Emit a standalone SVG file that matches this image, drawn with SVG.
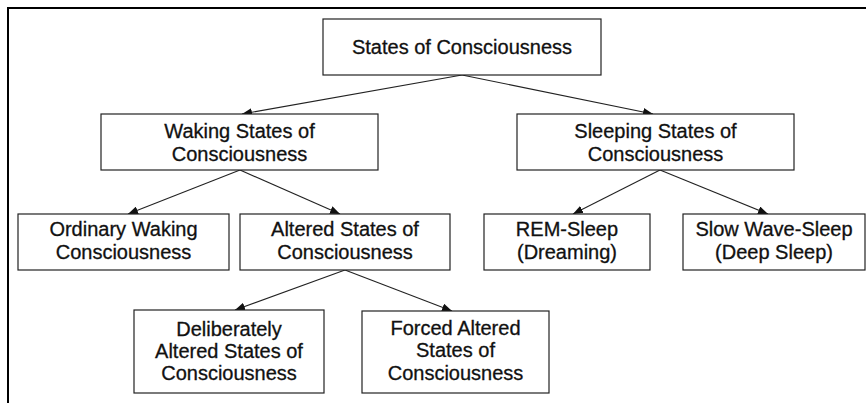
<svg xmlns="http://www.w3.org/2000/svg" width="866" height="403" viewBox="0 0 866 403">
<style>
.box{fill:#fff;stroke:#222;stroke-width:1.2}
.t{font-family:"Liberation Sans",Arial,sans-serif;font-size:20px;fill:#111;stroke:#111;stroke-width:0.3;text-anchor:middle}
.c{stroke:#222;stroke-width:1.1;fill:none;marker-end:url(#ah)}
</style>
<defs>
<marker id="ah" viewBox="0 0 10 8" refX="10" refY="4" markerWidth="10" markerHeight="8" markerUnits="userSpaceOnUse" orient="auto">
<path d="M0,0 L10,4 L0,8 Z" fill="#111"/>
</marker>
</defs>
<rect x="8" y="8" width="900" height="420" fill="#fff" stroke="#000" stroke-width="2"/>
<g id="connectors">
<line class="c" x1="462" y1="75" x2="242" y2="114"/>
<line class="c" x1="462" y1="75" x2="653" y2="114"/>
<line class="c" x1="240" y1="170" x2="128" y2="214"/>
<line class="c" x1="240" y1="170" x2="340" y2="214"/>
<line class="c" x1="660" y1="170" x2="573" y2="214"/>
<line class="c" x1="660" y1="170" x2="768" y2="214"/>
<line class="c" x1="345" y1="270" x2="235" y2="310"/>
<line class="c" x1="345" y1="270" x2="452" y2="311"/>
</g>
<g id="n-root">
<rect class="box" x="323" y="19" width="278" height="56"/>
<text class="t" x="462" y="54">States of Consciousness</text>
</g>
<g id="n-waking">
<rect class="box" x="101" y="114" width="277" height="56"/>
<text class="t" x="239.5" y="138">Waking States of</text>
<text class="t" x="239.5" y="161">Consciousness</text>
</g>
<g id="n-sleeping">
<rect class="box" x="517" y="114" width="277" height="56"/>
<text class="t" x="655.5" y="138">Sleeping States of</text>
<text class="t" x="655.5" y="161">Consciousness</text>
</g>
<g id="n-ordinary">
<rect class="box" x="18" y="214" width="211" height="56"/>
<text class="t" x="123.5" y="236">Ordinary Waking</text>
<text class="t" x="123.5" y="259">Consciousness</text>
</g>
<g id="n-altered">
<rect class="box" x="240" y="214" width="210" height="56"/>
<text class="t" x="345" y="236">Altered States of</text>
<text class="t" x="345" y="259">Consciousness</text>
</g>
<g id="n-rem">
<rect class="box" x="484" y="214" width="166" height="56"/>
<text class="t" x="567" y="236">REM-Sleep</text>
<text class="t" x="567" y="259">(Dreaming)</text>
</g>
<g id="n-slow">
<rect class="box" x="683" y="214" width="182" height="56"/>
<text class="t" x="774" y="236">Slow Wave-Sleep</text>
<text class="t" x="774" y="259">(Deep Sleep)</text>
</g>
<g id="n-deliberate">
<rect class="box" x="134" y="310" width="190" height="83"/>
<text class="t" x="229" y="336">Deliberately</text>
<text class="t" x="229" y="358">Altered States of</text>
<text class="t" x="229" y="380">Consciousness</text>
</g>
<g id="n-forced">
<rect class="box" x="362" y="311" width="187" height="82"/>
<text class="t" x="455.5" y="335">Forced Altered</text>
<text class="t" x="455.5" y="357">States of</text>
<text class="t" x="455.5" y="380">Consciousness</text>
</g>
</svg>
